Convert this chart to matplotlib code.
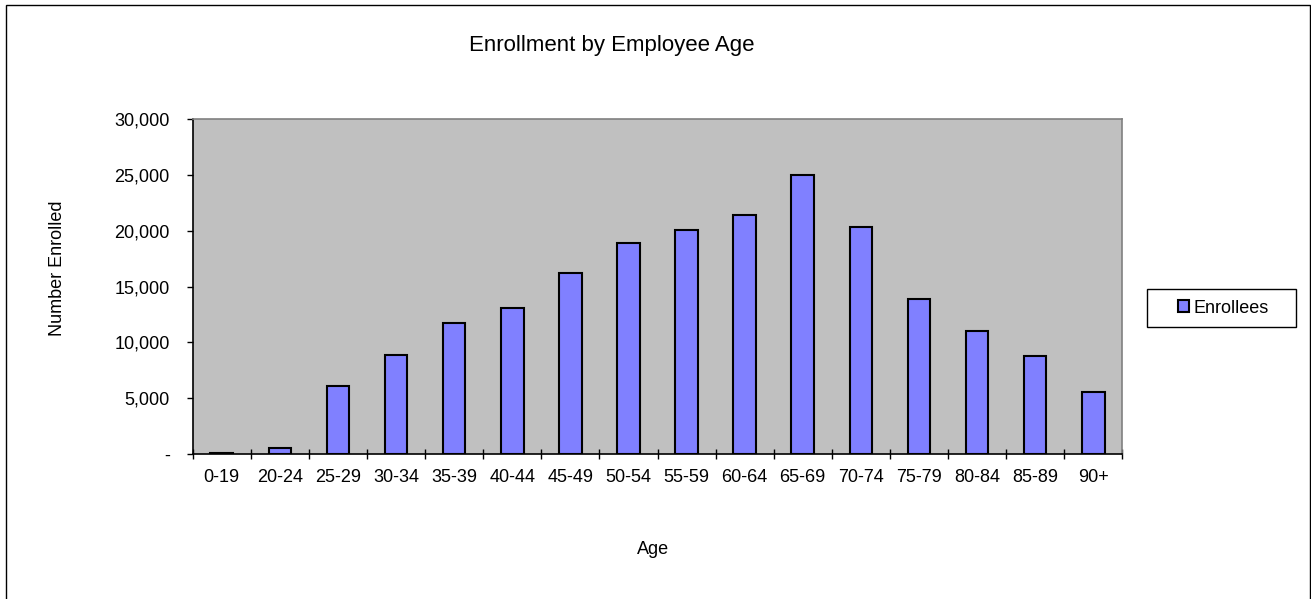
import matplotlib
matplotlib.use("Agg")
import matplotlib.pyplot as plt
from matplotlib.patches import Rectangle
from matplotlib.ticker import FixedLocator, NullFormatter

categories = ["0-19", "20-24", "25-29", "30-34", "35-39", "40-44", "45-49", "50-54",
              "55-59", "60-64", "65-69", "70-74", "75-79", "80-84", "85-89", "90+"]
enrollees = [50, 560, 6080, 8850, 11700, 13070, 16180, 18880,
             20070, 21410, 24980, 20370, 13880, 11060, 8760, 5530]
y_ticks = [0, 5000, 10000, 15000, 20000, 25000, 30000]
y_tick_labels = ["-", "5,000", "10,000", "15,000", "20,000", "25,000", "30,000"]

plt.rcParams['font.family'] = ['Liberation Sans', 'DejaVu Sans']

W, H = 1311, 599
fig = plt.figure(figsize=(W / 100, H / 100), dpi=100)
fig.patch.set_facecolor("white")

def fx(px):
    return px / W

def fy(py):
    return 1 - py / H

# outer chart border
fig.patches.append(Rectangle((fx(6), fy(605)), fx(1310) - fx(6), fy(5) - fy(605),
                             transform=fig.transFigure, fill=False,
                             edgecolor="black", linewidth=1.0, zorder=0))

left, right, top, bottom = 192.7, 1122.3, 119.3, 454.0
ax = fig.add_axes([fx(left), fy(bottom), fx(right) - fx(left), fy(top) - fy(bottom)])
ax.set_facecolor("#C0C0C0")

x = list(range(len(categories)))
bars = ax.bar(x, enrollees, width=0.39, color="#8080FF", edgecolor="black",
              linewidth=1.5, label="Enrollees", zorder=3)

ax.set_xlim(-0.5, len(categories) - 0.5)
ax.set_ylim(0, 30000)

ax.set_yticks(y_ticks)
ax.set_yticklabels(y_tick_labels, fontsize=13)
ax.tick_params(axis="y", direction="out", length=4.5, width=1, color="black", pad=12)

ax.set_xticks(x)
ax.set_xticklabels(categories, fontsize=13)
ax.tick_params(axis="x", which="major", length=0, pad=11)
ax.xaxis.set_minor_locator(FixedLocator([i - 0.5 for i in range(len(categories) + 1)]))
ax.xaxis.set_minor_formatter(NullFormatter())
ax.tick_params(axis="x", which="minor", direction="inout", length=7.5, width=1, color="black")

for s in ["left", "bottom"]:
    ax.spines[s].set_color("black")
    ax.spines[s].set_linewidth(1.2)
for s in ["top", "right"]:
    ax.spines[s].set_color("#808080")
    ax.spines[s].set_linewidth(1.2)

fig.text(fx(611.7), fy(45), "Enrollment by Employee Age", fontsize=16,
         ha="center", va="center")
fig.text(fx(57), fy(268), "Number Enrolled", fontsize=13, rotation=90,
         ha="center", va="center")
fig.text(fx(653), fy(549), "Age", fontsize=13, ha="center", va="center")

# legend box
fig.patches.append(Rectangle((fx(1147), fy(327)), fx(1296) - fx(1147), fy(289) - fy(327),
                             transform=fig.transFigure, facecolor="white",
                             edgecolor="black", linewidth=1.0, zorder=1))
leg = fig.legend(handles=[bars], labels=["Enrollees"], loc="center",
                 bbox_to_anchor=(fx(1223), fy(308)), bbox_transform=fig.transFigure,
                 frameon=False, fontsize=13, handlelength=0.6, handleheight=0.6,
                 handletextpad=0.25, borderpad=0)
leg.set_zorder(5)

fig.savefig("out.png", dpi=100, facecolor="white")
